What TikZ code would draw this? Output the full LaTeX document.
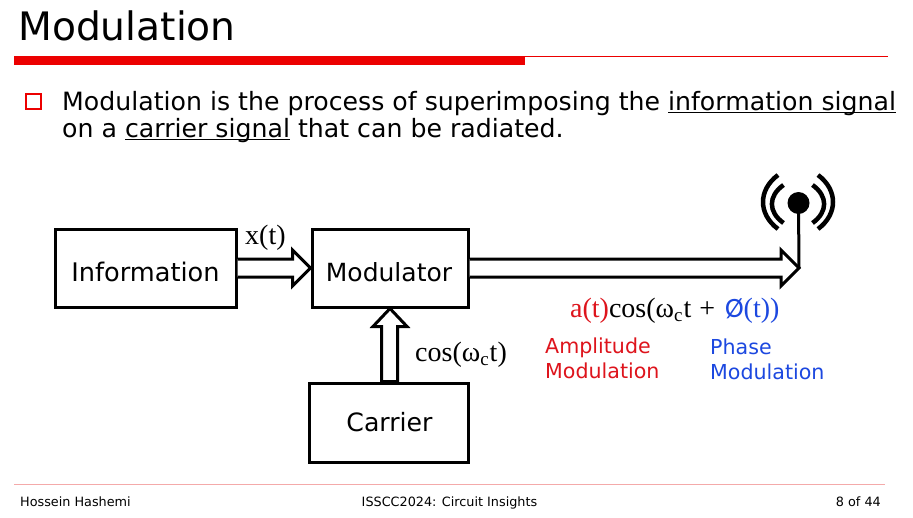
\documentclass[tikz,border=0pt]{standalone}
\usepackage{fontspec}
\usetikzlibrary{calc}
\setmainfont{DejaVu Sans}
\newfontfamily\mathserif{Liberation Serif}
\newfontfamily\slashfont{Carlito}
\definecolor{barred}{RGB}{236,0,0}
\definecolor{thinpink}{RGB}{244,170,170}
\definecolor{amred}{RGB}{222,20,28}
\definecolor{pmblue}{RGB}{28,72,224}
\newsavebox{\ulbox}
\newcommand{\myul}[1]{\sbox{\ulbox}{#1}\rlap{\rule[-3.2pt]{\wd\ulbox}{1.5pt}}\usebox{\ulbox}}
\newcommand{\subc}{\raisebox{-4pt}{\fontsize{19}{20}\selectfont c}}
\tikzset{
  blockbox/.style={draw=black,line width=3pt,rectangle,inner sep=0pt,font=\fontsize{25.2}{28}\selectfont,text=black,text depth=0pt},
  hollow/.style={draw=black,fill=white,line width=3pt,line join=miter,miter limit=3},
  txt/.style={anchor=base west,inner sep=0pt,text=black},
  bodytxt/.style={txt,font=\fontsize{25.2}{28}\selectfont},
  foot/.style={inner sep=0pt,anchor=base,text=black,font=\fontsize{12.8}{14}\selectfont},
  mathlbl/.style={txt,font=\mathserif\fontsize{28}{30}\selectfont},
  wave/.style={draw=black,line width=4.5pt,line cap=butt},
  modlbl/.style={txt,font=\fontsize{20.6}{24}\selectfont}
}
\begin{document}
\begin{tikzpicture}[x=1pt,y=-1pt]
\useasboundingbox[fill=white] (0,0) rectangle (913,517);
% header
\node[txt,font=\fontsize{39.2}{42}\selectfont] (title) at (18,40) {Modulation};
\fill[barred] (14,56) rectangle (525,65);
\draw[barred,line width=1pt] (525,56.5) -- (888,56.5);
\draw[barred,line width=2pt] (25.5,93.5) rectangle (40.5,109);
\node[bodytxt] (l1) at (62,110) {Modulation is the process of superimposing the \myul{information signal}};
\node[bodytxt] (l2) at (62,137) {on a \myul{carrier signal} that can be radiated.};
% boxes
\node[blockbox,minimum width=181pt,minimum height=78pt,text height=26pt,font=\fontsize{25.6}{28}\selectfont] (info) at (145.5,268) {Information};
\node[blockbox,minimum width=156pt,minimum height=78pt,text height=26pt,font=\fontsize{25}{28}\selectfont] (mod) at (390,268) {\hspace*{-2pt}Modulator};
\node[blockbox,minimum width=159pt,minimum height=79pt,text height=17pt] (car) at (388.5,422.5) {\hspace*{2pt}Carrier};
% antenna
\node[circle,fill=black,inner sep=0pt,minimum size=22pt] (dot) at (798.5,203) {};
\coordinate (feed) at (799,268);
\draw[black,line width=3pt] (dot.center) -- (feed);
% hollow arrows
\draw[hollow] ($(info.east)+(0,-9)$) -- ($(mod.west)+(-18,-9)$) -- ($(mod.west)+(-18,-18)$) -- (mod.west) -- ($(mod.west)+(-18,18)$) -- ($(mod.west)+(-18,9)$) -- ($(info.east)+(0,9)$);
\draw[hollow] ($(mod.east)+(0,-9)$) -- ($(feed)+(-18,-9)$) -- ($(feed)+(-18,-18)$) -- (feed) -- ($(feed)+(-18,18)$) -- ($(feed)+(-18,9)$) -- ($(mod.east)+(0,9)$);
\draw[hollow] ($(car.north)+(-7,0)$) -- ($(mod.south)+(-8.5,18)$) -- ($(mod.south)+(-17,18)$) -- ($(mod.south)+(0,0)$) -- ($(mod.south)+(17,18)$) -- ($(mod.south)+(7.5,18)$) -- ($(car.north)+(9,0)$) -- cycle;
% waves
\draw[wave] (778,175) .. controls (758,190) and (758,214) .. (778,229);
\draw[wave] (783.5,185) .. controls (768,196) and (768,212) .. (783.5,223);
\draw[wave] (818,175) .. controls (838,190) and (838,214) .. (818,229);
\draw[wave] (812.5,185) .. controls (828,196) and (828,212) .. (812.5,223);
% labels
\node[mathlbl] (xt) at (245,244) {x(t)};
\node[mathlbl] (cw) at (415,361) {cos(ω\subc\hspace{1pt}t)};
\node[mathlbl] (eq) at (570,317) {\textcolor{amred}{a(t)}cos(ω\subc\hspace{1pt}t\hspace{8pt}+\hspace{10pt}\textcolor{pmblue}{{\slashfont Ø}(t))}};
\node[modlbl,text=amred] (am1) at (545,353) {Amplitude};
\node[modlbl,text=amred] (am2) at (545,378) {Modulation};
\node[modlbl,text=pmblue] (pm1) at (710,354) {Phase};
\node[modlbl,text=pmblue] (pm2) at (710,379) {Modulation};
% footer
\draw[thinpink,line width=1pt] (14,484.5) -- (885,484.5);
\node[foot,anchor=base west] (f1) at (20,506) {Hossein Hashemi};
\node[foot] (f2) at (449.5,506) {ISSCC2024: Circuit Insights};
\node[foot,anchor=base east] (f3) at (881,506) {8 of 44};
\end{tikzpicture}
\end{document}
